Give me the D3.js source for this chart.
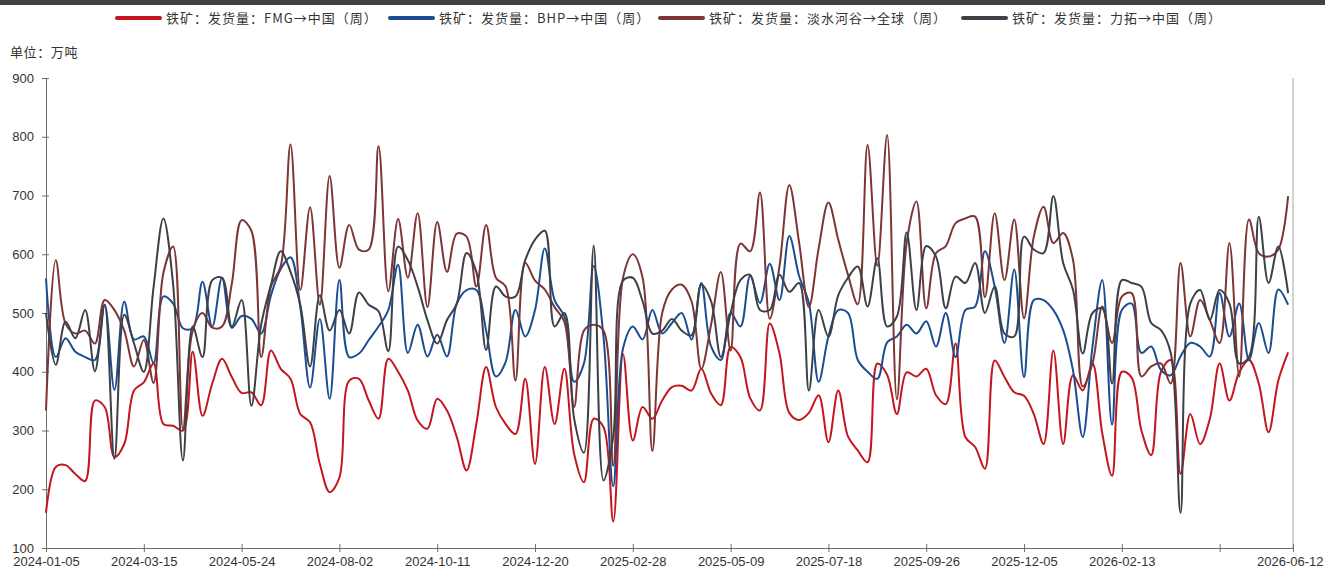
<!DOCTYPE html>
<html>
<head>
<meta charset="utf-8">
<script src="https://cdn.jsdelivr.net/npm/d3@7"></script>
<style>
  body { margin: 0; background: #fff; }
  svg { display: block; }
</style>
</head>
<body>
<div id="chart"></div>
<script>
// 铁矿发货量 (weekly), unit: 万吨

const seriesNames = [
  "铁矿：发货量：FMG→中国（周）",
  "铁矿：发货量：BHP→中国（周）",
  "铁矿：发货量：淡水河谷→全球（周）",
  "铁矿：发货量：力拓→中国（周）"
];
const seriesColors = ["#c3161f", "#1a4d92", "#7d3535", "#3e4047"];

const fmg = [
  160,238,241,226,214,351,340,255,277,368,
  382,414,311,308,300,434,325,380,422,391,
  364,365,343,436,405,388,328,314,243,195,
  220,385,388,351,320,422,400,368,317,303,
  354,334,289,232,311,408,340,311,294,388,
  243,408,311,405,260,212,320,306,145,430,
  283,340,320,351,374,376,368,405,363,343,
  442,425,355,334,482,431,330,318,330,360,
  280,368,290,266,246,414,395,328,399,392,
  405,360,345,448,289,272,235,419,391,365,
  359,328,277,436,277,394,368,414,295,223,
  400,390,300,258,400,420,226,328,277,320,
  414,351,399,420,380,297,385,433
];
const bhp = [
  559,425,457,434,425,420,514,369,519,455,
  460,415,528,516,474,474,553,477,560,475,
  495,490,465,530,575,595,510,373,490,354,
  556,425,431,454,477,505,582,432,480,426,
  463,426,516,539,539,470,392,417,505,460,
  505,610,522,494,383,414,580,460,205,440,
  477,455,505,465,483,500,455,551,443,420,
  500,477,563,517,584,522,631,563,517,383,
  460,505,500,420,400,388,450,460,480,465,
  486,443,500,425,505,511,605,545,449,574,
  391,522,522,505,471,403,289,443,556,310,
  505,516,432,443,403,394,426,449,443,426,
  534,460,516,420,483,432,540,514
];
const vale = [
  334,590,482,465,470,448,522,505,470,409,
  454,381,568,613,303,470,500,475,477,550,
  658,640,425,545,580,787,539,680,514,733,
  577,650,608,608,784,537,660,560,670,510,
  655,570,635,630,545,650,560,545,385,585,
  555,540,510,485,340,470,480,470,240,560,
  600,560,265,500,540,548,520,405,480,570,
  436,618,605,705,490,580,718,620,510,610,
  688,625,565,515,786,580,803,353,620,690,
  508,602,614,653,661,664,527,670,556,659,
  491,630,681,619,636,591,375,414,511,449,
  528,534,392,409,414,380,585,460,522,488,
  449,619,392,659,602,596,608,699
];
const rio = [
  500,412,485,457,505,401,514,252,497,448,
  400,544,661,548,249,477,425,556,560,477,
  522,342,480,548,605,570,514,409,530,470,
  505,465,535,514,503,435,613,590,545,488,
  448,488,516,602,570,437,545,528,528,590,
  625,640,477,500,320,262,615,215,290,555,
  560,520,465,470,490,470,462,548,520,425,
  500,556,565,505,505,565,536,551,368,505,
  460,530,560,579,511,593,477,494,637,505,
  614,596,508,562,551,585,500,545,465,460,
  630,608,602,699,585,540,431,500,508,380,
  556,551,545,483,471,432,160,516,539,488,
  539,516,414,425,664,551,613,534
];

// weekly categories, first Friday 2024-01-05
const startDate = new Date(Date.UTC(2024, 0, 5));
const fmtDate = d3.utcFormat("%Y-%m-%d");
const categories = d3.range(fmg.length).map(i => fmtDate(d3.utcDay.offset(startDate, 7 * i)));

const yTicks = [100, 200, 300, 400, 500, 600, 700, 800, 900];
const xTickIndex = [0, 10, 20, 30, 40, 50, 60, 70, 80, 90, 100, 110, 120];
const xTickLabels = ["2024-01-05","2024-03-15","2024-05-24","2024-08-02","2024-10-11",
  "2024-12-20","2025-02-28","2025-05-09","2025-07-18","2025-09-26","2025-12-05",
  "2026-02-13",""];
const lastLabel = "2026-06-12";

function drawChart() {
  const width = 1325, height = 569;
  const left = 46, right = 1293, top = 78, bottom = 548;

  const svg = d3.select("#chart").append("svg")
    .attr("width", width)
    .attr("height", height)
    .attr("viewBox", [0, 0, width, height]);

  // dark band at very top
  svg.append("rect")
    .attr("x", 0).attr("y", 0)
    .attr("width", width).attr("height", 5)
    .attr("fill", "#404040");

  const n = fmg.length;
  const lastPos = n - 0.5;
  const x = d3.scaleLinear().domain([0, lastPos]).range([left, right]);
  const y = d3.scaleLinear().domain([100, 900]).range([bottom, top]);

  // right border
  svg.append("line")
    .attr("x1", right).attr("x2", right)
    .attr("y1", top).attr("y2", bottom)
    .attr("stroke", "#a6a6a6").attr("stroke-width", 1);

  // y axis
  const yAxis = svg.append("g")
    .attr("transform", `translate(${left},0)`)
    .call(d3.axisLeft(y).tickValues(yTicks).tickSizeOuter(0).tickSize(4).tickPadding(8));
  yAxis.select(".domain").attr("stroke", "#6e6e6e");
  yAxis.selectAll(".tick line").attr("stroke", "#6e6e6e").attr("x1", 3).attr("x2", -4);
  yAxis.selectAll("text")
    .attr("font-family", "'Liberation Sans', Arial, sans-serif")
    .attr("font-size", 13)
    .attr("fill", "#333");

  // x axis
  const labelMap = new Map(xTickIndex.map((v, k) => [v, xTickLabels[k]]));
  labelMap.set(lastPos, lastLabel);
  const xAxis = svg.append("g")
    .attr("transform", `translate(0,${bottom})`)
    .call(d3.axisBottom(x)
      .tickValues(xTickIndex.concat([lastPos]))
      .tickSizeOuter(0)
      .tickSize(4)
      .tickFormat(d => labelMap.get(d)));
  xAxis.select(".domain").attr("stroke", "#6e6e6e");
  xAxis.selectAll(".tick line").attr("stroke", "#6e6e6e").attr("y1", -4).attr("y2", 4);
  xAxis.selectAll("text")
    .attr("y", 9)
    .attr("font-family", "'Liberation Sans', Arial, sans-serif")
    .attr("font-size", 13)
    .attr("fill", "#333");
  xAxis.selectAll(".tick").filter(d => d === lastPos).select("text")
    .attr("text-anchor", "end").attr("dx", 30);

  // unit label
  svg.append("text")
    .attr("x", 10).attr("y", 57)
    .attr("font-family", "'Noto Sans CJK SC', sans-serif")
    .attr("font-size", 13)
    .attr("letter-spacing", 0.6)
    .attr("fill", "#333")
    .text("单位：万吨");

  // lines
  const allSeries = [fmg, bhp, vale, rio];
  const line = d3.line()
    .x((d, i) => x(i))
    .y(d => y(d))
    .curve(d3.curveCatmullRom.alpha(0.5));

  svg.append("g")
    .selectAll("path")
    .data(allSeries)
    .join("path")
    .attr("d", d => line(d))
    .attr("fill", "none")
    .attr("stroke", (d, i) => seriesColors[i])
    .attr("stroke-width", 2)
    .attr("stroke-linejoin", "round");

  // legend
  const legendX = [117, 390, 660, 963];
  const legend = svg.append("g")
    .selectAll("g")
    .data(seriesNames)
    .join("g")
    .attr("transform", (d, i) => `translate(${legendX[i]},18)`);
  legend.append("line")
    .attr("x1", 0).attr("x2", 43)
    .attr("stroke", (d, i) => seriesColors[i])
    .attr("stroke-width", 4)
    .attr("stroke-linecap", "round");
  legend.append("text")
    .attr("x", 49).attr("dy", "0.36em")
    .attr("font-family", "'Noto Sans CJK SC', sans-serif")
    .attr("font-size", 13)
    .attr("letter-spacing", 1)
    .attr("fill", "#333")
    .text(d => d);
}

if (document.readyState === "loading") {
  document.addEventListener("DOMContentLoaded", drawChart);
} else {
  drawChart();
}
</script>
</body>
</html>
